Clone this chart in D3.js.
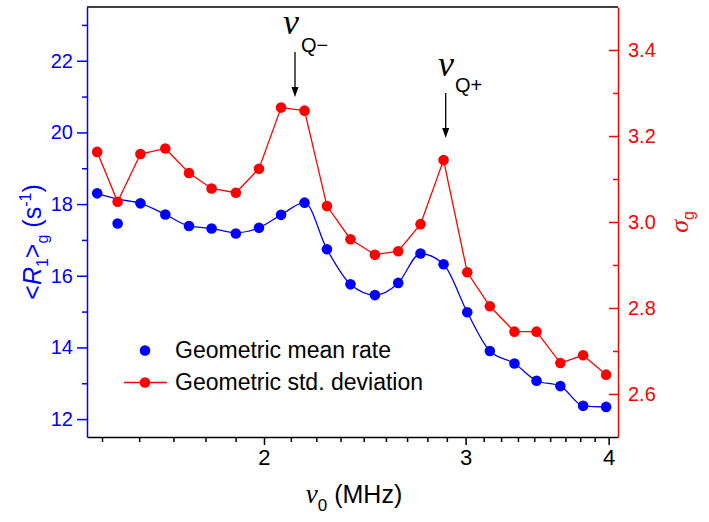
<!DOCTYPE html>
<html><head><meta charset="utf-8">
<script src="https://cdn.jsdelivr.net/npm/d3@7"></script>
<style>body{margin:0;background:#fff}</style>
</head><body>
<svg id="c" width="709" height="522"></svg>
<script>
// ---- data ----
const freq = [1.43,1.49,1.56,1.64,1.72,1.80,1.89,1.98,2.07,2.17,2.27,2.38,2.50,2.62,2.74,2.87,3.01,3.15,3.31,3.46,3.63,3.80,3.98];
const meanRate = [18.30,17.46,18.02,17.71,17.39,17.32,17.18,17.34,17.70,18.04,16.74,15.76,15.46,15.80,16.62,16.32,14.98,13.90,13.55,13.07,12.92,12.37,12.34];
const meanFit  = [18.30,18.14,18.02,17.71,17.39,17.32,17.20,17.34,17.70,18.04,16.74,15.76,15.46,15.80,16.62,16.32,14.98,13.90,13.55,13.07,12.92,12.37,12.34];
const stdDev = [3.163,3.047,3.158,3.171,3.114,3.078,3.068,3.124,3.266,3.259,3.037,2.960,2.924,2.932,2.995,3.144,2.883,2.804,2.745,2.745,2.672,2.690,2.645];
const xTicks = [2,3,4];
const xMinorTicks = [1.444,1.556,1.667,1.778,1.889,2.111,2.222,2.333,2.444,2.556,2.667,2.778,2.889,3.111,3.222,3.333,3.444,3.556,3.667,3.778,3.889];
const leftTicks = [12,14,16,18,20,22];
const leftMinorTicks = [13,15,17,19,21,23];
const rightTicks = [2.6,2.8,3.0,3.2,3.4];
const rightMinorTicks = [2.7,2.9,3.1,3.3];
const legendLabels = ["Geometric mean rate","Geometric std. deviation"];

const BLUE = "#0000ff", RED = "#ff0000";
const L = 87, R = 618, T = 7, B = 437;
const svg = d3.select("#c");
const FONT = "'Liberation Sans', Arial, Helvetica, sans-serif";
const SERIF = "'Liberation Serif', 'Times New Roman', serif";

const x = d3.scaleLog().domain([1.401, 4.076]).range([L, R]);
const yL = d3.scaleLinear().domain([11.5, 23.5]).range([B, T]);
const yR = d3.scaleLinear().domain([2.5, 3.5]).range([B, T]);

// top frame line
svg.append("line").attr("x1", L).attr("x2", R).attr("y1", T).attr("y2", T)
  .attr("stroke", "#000").attr("stroke-width", 1.5);

// bottom axis
const gx = svg.append("g").attr("transform", `translate(0,${B})`);
gx.call(d3.axisBottom(x).tickValues(xTicks).tickFormat(d3.format("d")).tickSize(8).tickSizeOuter(0).tickPadding(4));
gx.append("g").call(d3.axisBottom(x).tickValues(xMinorTicks).tickFormat("").tickSize(5).tickSizeOuter(0))
  .select(".domain").remove();
gx.selectAll("path,line").attr("stroke", "#000").attr("stroke-width", 1.5);
gx.selectAll("text").attr("fill", "#000").style("font-family", FONT).style("font-size", "22px");

// left axis
const gl = svg.append("g").attr("transform", `translate(${L},0)`);
gl.call(d3.axisLeft(yL).tickValues(leftTicks).tickSize(10).tickSizeOuter(0).tickPadding(4));
gl.append("g").call(d3.axisLeft(yL).tickValues(leftMinorTicks).tickFormat("").tickSize(5).tickSizeOuter(0))
  .select(".domain").remove();
gl.selectAll("path,line").attr("stroke", BLUE).attr("stroke-width", 1.5);
gl.selectAll("text").attr("fill", BLUE).style("font-family", FONT).style("font-size", "20px");

// right axis (ticks inward)
const gr = svg.append("g").attr("transform", `translate(${R},0)`);
gr.call(d3.axisRight(yR).tickValues(rightTicks).tickFormat(d3.format(".1f")).tickSizeInner(-9).tickSizeOuter(0).tickPadding(10));
gr.append("g").call(d3.axisRight(yR).tickValues(rightMinorTicks).tickFormat("").tickSizeInner(-5).tickSizeOuter(0))
  .select(".domain").remove();
gr.selectAll("path,line").attr("stroke", RED).attr("stroke-width", 1.5);
gr.selectAll("text").attr("fill", RED).style("font-family", FONT).style("font-size", "20px");

// blue fitted line
svg.append("path")
  .datum(freq.map((f, i) => [f, meanFit[i]]))
  .attr("fill", "none").attr("stroke", BLUE).attr("stroke-width", 1.3)
  .attr("d", d3.line().x(d => x(d[0])).y(d => yL(d[1])).curve(d3.curveMonotoneX));

// red connecting line
svg.append("path")
  .datum(freq.map((f, i) => [f, stdDev[i]]))
  .attr("fill", "none").attr("stroke", RED).attr("stroke-width", 1.3)
  .attr("d", d3.line().x(d => x(d[0])).y(d => yR(d[1])));

// points
svg.append("g").selectAll("circle").data(freq).join("circle")
  .attr("cx", d => x(d)).attr("cy", (d, i) => yR(stdDev[i])).attr("r", 5.3).attr("fill", RED);
svg.append("g").selectAll("circle").data(freq).join("circle")
  .attr("cx", d => x(d)).attr("cy", (d, i) => yL(meanRate[i])).attr("r", 5.3).attr("fill", BLUE);

// legend
const lg = svg.append("g");
lg.append("circle").attr("cx", 145).attr("cy", 350.5).attr("r", 5.3).attr("fill", BLUE);
lg.append("line").attr("x1", 124).attr("x2", 167).attr("y1", 382.5).attr("y2", 382.5).attr("stroke", RED).attr("stroke-width", 1.3);
lg.append("circle").attr("cx", 145).attr("cy", 382.5).attr("r", 5.3).attr("fill", RED);
lg.selectAll("text.lbl").data(legendLabels).join("text").attr("class", "lbl")
  .attr("x", 175).attr("y", (d, i) => 357.5 + i * 32)
  .style("font-family", FONT).style("font-size", "23px").attr("fill", "#000").text(d => d);

// x title
const xt = svg.append("text").attr("x", 354).attr("y", 503).attr("text-anchor", "middle")
  .style("font-family", FONT).style("font-size", "25px").attr("fill", "#000");
xt.append("tspan").text("ν").style("font-family", SERIF).style("font-style", "italic").style("font-size", "27px");
xt.append("tspan").text("0").attr("dy", 8).style("font-size", "17px");
xt.append("tspan").text(" (MHz)").attr("dy", -8);

// left title
const lt = svg.append("text").attr("transform", "translate(41,242) rotate(-90)").attr("text-anchor", "middle")
  .style("font-family", FONT).style("font-size", "25px").attr("fill", BLUE);
lt.append("tspan").text("<");
lt.append("tspan").text("R").style("font-style", "italic");
lt.append("tspan").text("1").attr("dy", 7).style("font-size", "16px");
lt.append("tspan").text(">").attr("dy", -7);
lt.append("tspan").text("g").attr("dy", 7).style("font-size", "16px");
lt.append("tspan").text(" (s").attr("dy", -7);
lt.append("tspan").text("-1").attr("dy", -10).style("font-size", "16px");
lt.append("tspan").text(")").attr("dy", 10);

// right title
const rt = svg.append("text").attr("transform", "translate(688,222) rotate(-90)").attr("text-anchor", "middle")
  .style("font-size", "26px").attr("fill", RED);
rt.append("tspan").text("σ").style("font-family", SERIF).style("font-style", "italic");
rt.append("tspan").text("g").attr("dy", 6).style("font-family", FONT).style("font-size", "16px");

// annotations
function annot(nx, ny, sub, sx, sy, ax, ay1, ay2) {
  svg.append("text").attr("x", nx).attr("y", ny).attr("fill", "#000")
    .style("font-family", SERIF).style("font-style", "italic").style("font-size", "36px").text("ν");
  svg.append("text").attr("x", sx).attr("y", sy).attr("fill", "#000")
    .style("font-family", FONT).style("font-size", "20px").text(sub);
  svg.append("line").attr("x1", ax).attr("x2", ax).attr("y1", ay1).attr("y2", ay2 - 8).attr("stroke", "#000").attr("stroke-width", 1.3);
  svg.append("path").attr("d", `M${ax - 3.5},${ay2 - 10}L${ax + 3.5},${ay2 - 10}L${ax},${ay2}Z`).attr("fill", "#000");
}
annot(283, 34, "Q\u2212", 301, 52, 295, 52, 97);
annot(438, 76, "Q+", 455, 92, 445.7, 93, 138);
</script>
</body></html>
